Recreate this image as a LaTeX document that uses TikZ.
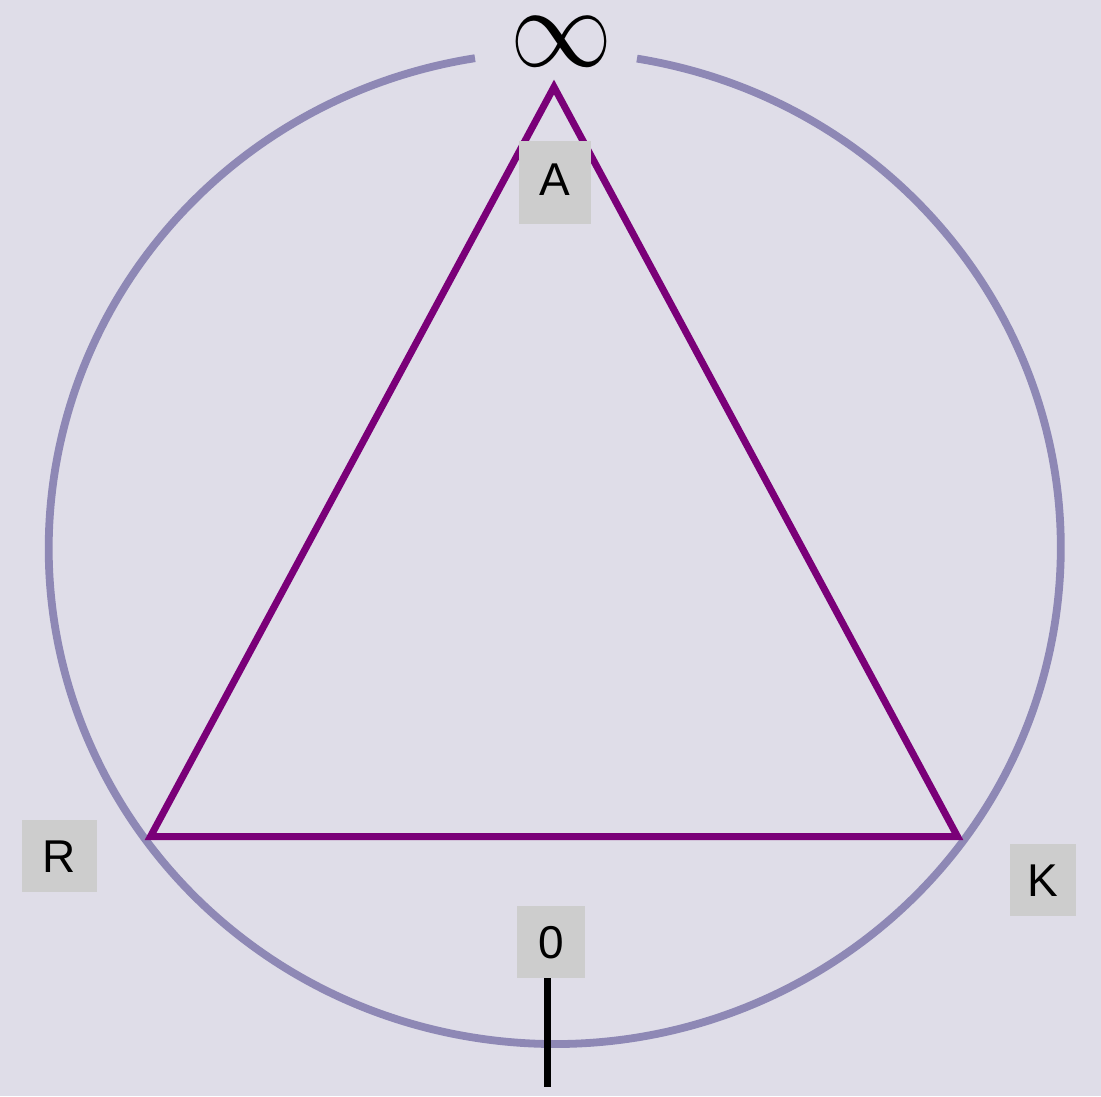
\documentclass[tikz,border=0pt]{standalone}
\usepackage{fontspec}
\newfontfamily\labfont{Liberation Sans}
\definecolor{bg}{HTML}{DFDDE8}
\definecolor{ring}{HTML}{8E88B5}
\definecolor{tri}{HTML}{7A0078}
\definecolor{boxfill}{HTML}{CDCDCD}
\begin{document}
\begin{tikzpicture}[x=1pt,y=-1pt,
  lab/.style={fill=boxfill, font=\labfont\fontsize{46}{55}\selectfont, text=black,
    inner sep=0pt, text height=33pt, text depth=0pt, minimum height=72pt},
  ringline/.style={ring, line width=7.8pt},
  triline/.style={tri, line width=7pt, line join=miter},
  tickline/.style={black, line width=7pt}]
\fill[bg] (0,0) rectangle (1101,1096);
\useasboundingbox (0,0) rectangle (1101,1096);
% ring with gap at top
\draw[ringline] (636.95,58.6) arc[start angle=-80.65, end angle=260.93, x radius=506, y radius=496];
% triangle
\coordinate (A) at (554,87);
\coordinate (R) at (150.5,836.5);
\coordinate (K) at (957.5,836.5);
\draw[triline] (A) -- (R) -- (K) -- cycle;
% tick at 0
\coordinate (t1) at (547,974);
\coordinate (t2) at (547,1087);
\draw[tickline] (t1) -- (t2);
% labels
\node[lab, minimum width=72pt, minimum height=83pt, text depth=8pt] (la) at (555,182.5) {A};
\node[lab, minimum width=75pt] (lr) at (59.2,855.7) {R};
\node[lab, minimum width=66pt] (lk) at (1043,880.2) {K};
\node[lab, minimum width=68pt] (l0) at (550.8,942.2) {0};
\node[inner sep=0pt] (inf) at (561,41.5) {\scalebox{10.2}[11.5]{$\infty$}};
\end{tikzpicture}
\end{document}
